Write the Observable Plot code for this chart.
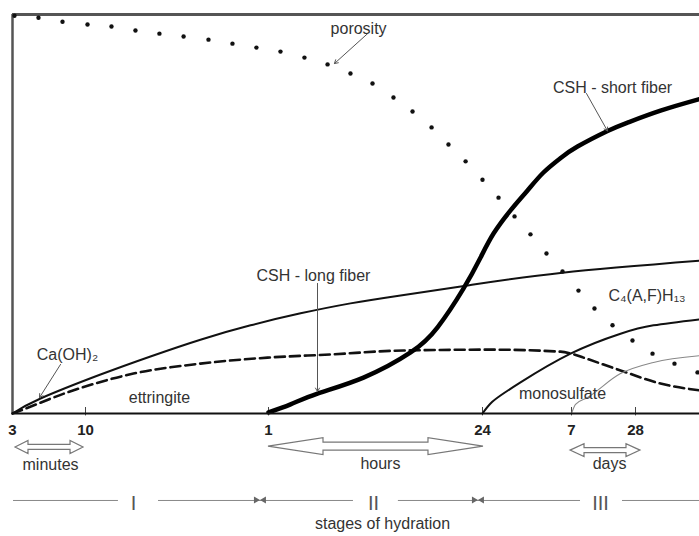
<!DOCTYPE html>
<html><head><meta charset="utf-8">
<script src="https://cdn.jsdelivr.net/npm/d3@7"></script>
<script src="https://cdn.jsdelivr.net/npm/@observablehq/plot@0.6"></script>
<style>body{margin:0;background:#fff} #chart svg{display:block}</style>
</head><body><div id="chart"></div>
<script>
// x = time-position index on the piecewise time axis: 0=3 min, 1=10 min, 2=1 h, 3=24 h, 4=7 d, 5=28 d
const tickPositions = [0, 1, 2, 3, 4, 5];
const tickLabels = ["3", "10", "1", "24", "7", "28"];
const minorTicks = [1, 2, 3, 4, 5];

// y = relative amount (0..100)
const porosityX = [0.027,0.356,0.685,1.011,1.142,1.273,1.404,1.536,1.672,1.803,1.934,2.056,2.168,2.276,2.383,2.486,2.584,2.673,2.762,2.841,2.921,3.0,3.18,3.36,3.539,3.719,3.899,4.109,4.359,4.641,4.953,5.266,5.609,5.969];
const porosityY = [99.7,99.2,98.2,97.5,97.0,96.0,95.2,94.5,93.7,92.7,91.7,90.7,89.2,87.5,85.2,82.7,79.2,75.7,71.7,67.4,63.2,58.6,54.1,49.4,44.9,40.1,35.6,30.8,26.3,22.1,18.3,15.0,12.5,10.3];

const caohX = [0,0.384,1.082,1.355,1.628,1.902,2.15,2.383,2.617,2.93,3.899,6];
const caohY = [0,3.76,9.77,14.3,18.5,22.1,25.1,27.6,29.6,32.1,35.3,38.3];

const ettringiteX = [0,0.11,0.753,1.262,1.628,1.995,2.29,2.631,3.09,3.876,4.0,4.188,4.766,5.391,6];
const ettringiteY = [0,0.75,5.3,10.0,12.5,14.0,14.8,15.8,16.0,15.5,15.0,14.0,10.8,7.5,5.8];

const cshX = [2.0,2.103,2.229,2.444,2.664,2.79,2.911,2.991,3.124,3.315,3.506,3.685,3.876,4.094,4.563,4.875,5.391,6];
const cshY = [0.3,2.3,5.0,9.0,15.3,21.6,31.3,39.1,45.1,50.9,55.9,60.4,64.0,66.9,70.8,72.9,75.9,78.8];

const c4afX = [3,3.09,3.202,3.427,3.989,4.766,5.281,6];
const c4afY = [0,2.5,4.5,7.8,15.0,20.0,22.1,23.6];

const monoX = [4,4.063,4.25,4.766,5.281,6];
const monoY = [0,2.3,4.0,10.0,12.8,14.5];

// labels
const labelText = ["porosity","CSH - short fiber","CSH - long fiber","Ca(OH)₂","ettringite","monosulfate","minutes","hours","days","stages of hydration"];
const labelX = [2.421,4.641,2.21,0.753,1.404,3.899,0.521,2.523,4.594,2.533];
const labelY = [96.5,81.5,34.6,14.8,4.0,5.0,-12.8,-12.5,-12.5,-27.6];

const c4afLabel = "C₄(A,F)H₁₃";
const c4afLabelX = 4.578, c4afLabelY = 29.6;

// leader arrows
const leaderX1 = [2.463,4.234,2.229,0.658];
const leaderY1 = [95.2,80.2,32.6,12.3];
const leaderX2 = [2.308,4.563,2.229,0.37];
const leaderY2 = [87.7,70.8,5.5,4.0];

// unit (double) arrows
const unitX1 = [0.041,2.0,3.989];
const unitX2 = [0.973,3.011,5.078];
const unitY = [-8.5,-8.3,-9.3];

// stages
const stageNames = ["I","II","III"];
const stageNameX = [1.262,2.491,4.453];
const stageY = -21.8;
const stageSegX1 = [0.014,1.399,2.607,4.797];
const stageSegX2 = [1.18,2.397,4.141,6];
const stageBounds = [1.956,2.981];

const zip = (xs, ys) => xs.map((x, i) => ({x, y: ys[i]}));
const ns = "http://www.w3.org/2000/svg";
const FONT = "'Liberation Sans', Arial, Helvetica, sans-serif";

// style for unit arrows (pixels)
const unitHead = [13, 55, 14], unitHeadHalf = [6.5, 8.5, 6.5], unitShaftHalf = [2.5, 4, 2.5];

function unitArrows(index, scales) {
  const g = document.createElementNS(ns, "g");
  unitX1.forEach((v, i) => {
    const X1 = scales.x(v), X2 = scales.x(unitX2[i]), Y = scales.y(unitY[i]);
    const L = unitHead[i], H = unitHeadHalf[i], T = unitShaftHalf[i];
    const pts = [[X1,Y],[X1+L,Y-H],[X1+L,Y-T],[X2-L,Y-T],[X2-L,Y-H],[X2,Y],[X2-L,Y+H],[X2-L,Y+T],[X1+L,Y+T],[X1+L,Y+H]];
    const p = document.createElementNS(ns, "polygon");
    p.setAttribute("points", pts.map(d => d.join(",")).join(" "));
    p.setAttribute("fill", "white");
    p.setAttribute("stroke", "#777");
    p.setAttribute("stroke-width", "1.2");
    g.appendChild(p);
  });
  return g;
}

function bowties(index, scales) {
  const g = document.createElementNS(ns, "g");
  stageBounds.forEach(v => {
    const X = scales.x(v), Y = scales.y(stageY);
    for (const s of [-1, 1]) {
      const p = document.createElementNS(ns, "polygon");
      p.setAttribute("points", `${X+s*6},${Y-3.5} ${X},${Y} ${X+s*6},${Y+3.5}`);
      p.setAttribute("fill", "#666");
      g.appendChild(p);
    }
  });
  return g;
}

const plot = Plot.plot({
  width: 699,
  height: 536,
  style: {fontFamily: FONT, background: "white", overflow: "visible"},
  x: {type: "linear", domain: [0,1,2,3,4,5,6], range: [12,85,268,482,571,635,699], axis: null},
  y: {domain: [0, 100], range: [413, 14], axis: null},
  marks: [
    // frame
    Plot.ruleY([100], {x1: 0, x2: 6, stroke: "#555", strokeWidth: 3}),
    Plot.ruleX([0], {y1: 0, y2: 100, stroke: "#555", strokeWidth: 2.5}),
    Plot.ruleX(minorTicks, {y1: -0.6, y2: 1.5, stroke: "#444", strokeWidth: 1}),
    // curves
    Plot.line(zip(caohX, caohY), {x: "x", y: "y", stroke: "#111", strokeWidth: 2, curve: "natural"}),
    Plot.line(zip(ettringiteX, ettringiteY), {x: "x", y: "y", stroke: "#111", strokeWidth: 2.6, strokeDasharray: "10,5", curve: "monotone-x"}),
    Plot.line(zip(c4afX, c4afY), {x: "x", y: "y", stroke: "#111", strokeWidth: 2, curve: "natural"}),
    Plot.line(zip(monoX, monoY), {x: "x", y: "y", stroke: "#888", strokeWidth: 1.1, curve: "monotone-x"}),
    Plot.line(zip(cshX, cshY), {x: "x", y: "y", stroke: "#000", strokeWidth: 4.5, curve: "natural"}),
    Plot.ruleY([0], {x1: 0, x2: 6, stroke: "#111", strokeWidth: 2}),
    Plot.dot(zip(porosityX, porosityY), {x: "x", y: "y", r: 2.2, fill: "#111", stroke: "none"}),
    // leaders
    Plot.arrow(leaderX1.map((x1, i) => ({x1, y1: leaderY1[i], x2: leaderX2[i], y2: leaderY2[i]})),
      {x1: "x1", y1: "y1", x2: "x2", y2: "y2", stroke: "#555", strokeWidth: 1, headLength: 6}),
    // labels
    Plot.text(labelText.map((t, i) => ({t, x: labelX[i], y: labelY[i]})),
      {x: "x", y: "y", text: "t", fontSize: 16, fill: "#333"}),
    Plot.text([{t: c4afLabel, x: c4afLabelX, y: c4afLabelY}],
      {x: "x", y: "y", text: "t", fontSize: 16, fill: "#333", textAnchor: "start"}),
    // tick labels
    Plot.text(tickPositions.map((x, i) => ({x, t: tickLabels[i]})),
      {x: "x", y: -4.3, text: "t", fontSize: 15, fontWeight: "bold", fill: "#222"}),
    // unit arrows
    unitArrows,
    // stages
    Plot.ruleY(stageSegX1.map((x1, i) => ({x1, x2: stageSegX2[i]})), {x1: "x1", x2: "x2", y: stageY, stroke: "#888", strokeWidth: 1}),
    bowties,
    Plot.text(stageNames.map((t, i) => ({t, x: stageNameX[i]})),
      {x: "x", y: stageY - 0.8, text: "t", fontSize: 20, fill: "#555"})
  ]
});
document.getElementById("chart").appendChild(plot);
</script>
</body></html>
